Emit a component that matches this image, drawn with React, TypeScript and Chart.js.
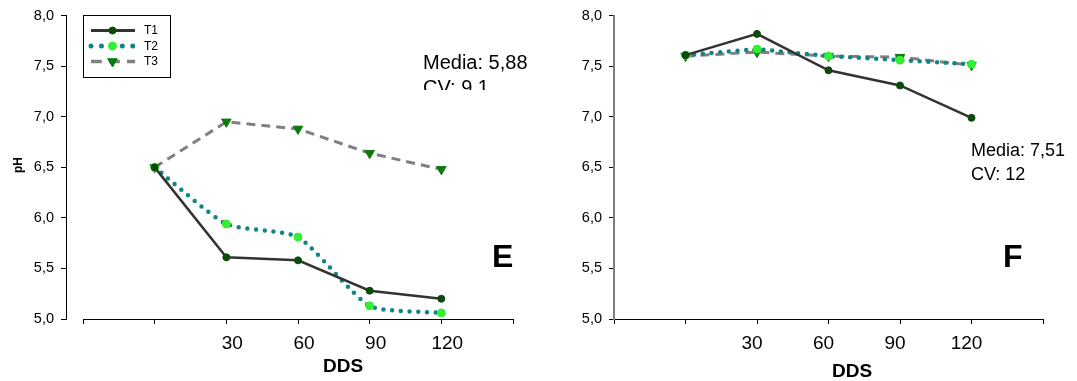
import React, { useEffect, useRef } from "react";
import { Chart, registerables } from "chart.js";

Chart.register(...registerables);

// Sampling days after sowing (DDS) and the three treatments
const days = [0, 30, 60, 90, 120];
const seriesNames = ["T1", "T2", "T3"];
const xTicks = [-30, 0, 30, 60, 90, 120, 150];
const xLabels = [30, 60, 90, 120];
const yTicks = [5.0, 5.5, 6.0, 6.5, 7.0, 7.5, 8.0];

// Panel E – soil pH per treatment
const phE_T1 = [6.5, 5.61, 5.58, 5.28, 5.2];
const phE_T2 = [6.5, 5.94, 5.81, 5.13, 5.06];
const phE_T3 = [6.5, 6.95, 6.88, 6.64, 6.48];

// Panel F – soil pH per treatment
const phF_T1 = [7.61, 7.82, 7.46, 7.31, 6.99];
const phF_T2 = [7.61, 7.67, 7.6, 7.56, 7.52];
const phF_T3 = [7.6, 7.64, 7.6, 7.59, 7.51];

const statsE = ["Media: 5,88", "CV: 9.1"];
const statsF = ["Media: 7,51", "CV: 12"];

const FONT = "'Liberation Sans', Arial, sans-serif";

type Series = number[];

function makeDatasets(t1: Series, t2: Series, t3: Series, t2Tension: number) {
  const pts = (v: Series) => days.map((d, i) => ({ x: d, y: v[i] }));
  return [
    {
      label: seriesNames[0],
      data: pts(t1),
      borderColor: "#333333",
      borderWidth: 2.5,
      pointRadius: 3.5,
      pointBackgroundColor: "#0b4a0b",
      pointBorderColor: "#0b4a0b",
      pointBorderWidth: 1,
      tension: 0,
    },
    {
      label: seriesNames[1],
      data: pts(t2),
      borderColor: "#0f8585",
      borderWidth: 4.5,
      borderDash: [0, 8.7],
      borderCapStyle: "round",
      pointRadius: 4,
      pointBackgroundColor: "#33ee33",
      pointBorderColor: "#33ee33",
      pointBorderWidth: 1,
      tension: t2Tension,
    },
    {
      label: seriesNames[2],
      data: pts(t3),
      borderColor: "#808080",
      borderWidth: 3,
      borderDash: [9, 6],
      pointStyle: "triangle",
      rotation: 180,
      pointRadius: 5.5,
      pointBackgroundColor: "#0a7a0a",
      pointBorderColor: "#0a7a0a",
      pointBorderWidth: 1,
      tension: 0,
    },
  ];
}

function drawMarker(ctx: CanvasRenderingContext2D, ds: any, x: number, y: number) {
  const r = ds.pointRadius;
  ctx.save();
  ctx.fillStyle = ds.pointBackgroundColor;
  ctx.strokeStyle = ds.pointBorderColor;
  ctx.lineWidth = ds.pointBorderWidth || 1;
  ctx.setLineDash([]);
  ctx.beginPath();
  if (ds.pointStyle === "triangle") {
    ctx.moveTo(x, y + r);
    ctx.lineTo(x - 0.866 * r, y - 0.5 * r);
    ctx.lineTo(x + 0.866 * r, y - 0.5 * r);
    ctx.closePath();
  } else {
    ctx.arc(x, y, r, 0, Math.PI * 2);
  }
  ctx.fill();
  ctx.stroke();
  ctx.restore();
}

// Axis line span, legend box, stats, panel letter and axis titles
const panelDecor = {
  id: "panelDecor",
  afterDraw(chart: any, _args: any, opts: any) {
    const { ctx, chartArea, scales } = chart;
    ctx.save();

    if (opts.axisSpan) {
      const x0 = scales.x.getPixelForValue(opts.axisSpan[0]);
      const x1 = scales.x.getPixelForValue(opts.axisSpan[1]);
      const yb = Math.round(chartArea.bottom) + 0.5;
      ctx.strokeStyle = "#000";
      ctx.lineWidth = 1;
      ctx.beginPath();
      ctx.moveTo(x0, yb);
      ctx.lineTo(x1, yb);
      ctx.stroke();
    }

    if (opts.legend) {
      const L = opts.legend;
      ctx.strokeStyle = "#000";
      ctx.lineWidth = 1;
      ctx.strokeRect(L.x + 0.5, L.y + 0.5, L.w, L.h);
      chart.data.datasets.forEach((ds: any, i: number) => {
        const yy = L.y + L.rows[i];
        ctx.save();
        ctx.strokeStyle = ds.borderColor;
        ctx.lineWidth = ds.borderWidth + 0.5;
        ctx.setLineDash(ds.borderDash ? ds.borderDash.map((d: number) => d * 1.2) : []);
        ctx.lineCap = ds.borderCapStyle || "butt";
        ctx.beginPath();
        ctx.moveTo(L.x + 8, yy);
        ctx.lineTo(L.x + 52, yy);
        ctx.stroke();
        ctx.restore();
        drawMarker(ctx, ds, L.x + 29.5, yy);
        ctx.fillStyle = "#000";
        ctx.font = `12px ${FONT}`;
        ctx.textAlign = "left";
        ctx.textBaseline = "middle";
        ctx.fillText(ds.label, L.x + 61, yy + 0.5);
      });
    }

    (opts.texts || []).forEach((t: any) => {
      ctx.save();
      if (t.clipBottom) {
        ctx.beginPath();
        ctx.rect(0, 0, chart.width, t.clipBottom);
        ctx.clip();
      }
      ctx.fillStyle = "#000";
      ctx.font = t.font;
      ctx.textAlign = t.align || "left";
      ctx.textBaseline = t.baseline || "alphabetic";
      if (t.rotate) {
        ctx.translate(t.x, t.y);
        ctx.rotate(t.rotate);
        ctx.fillText(t.text, 0, 0);
      } else {
        ctx.fillText(t.text, t.x, t.y);
      }
      ctx.restore();
    });

    ctx.restore();
  },
};

type PanelCfg = {
  datasets: any[];
  xMin: number;
  yWidth: number;
  padRight: number;
  xBorder: boolean;
  xLabelShift: number;
  yBorderColor: string;
  yBorderWidth: number;
  decor: any;
};

function buildConfig(p: PanelCfg): any {
  return {
    type: "line",
    data: { datasets: p.datasets },
    plugins: [panelDecor],
    options: {
      animation: false,
      responsive: false,
      layout: { padding: { left: 0, top: 11, right: p.padRight, bottom: 0 } },
      plugins: {
        legend: { display: false },
        tooltip: { enabled: false },
        panelDecor: p.decor,
      },
      scales: {
        x: {
          type: "linear",
          min: p.xMin,
          max: 150,
          afterBuildTicks: (s: any) => {
            s.ticks = xTicks.map((v) => ({ value: v }));
          },
          afterFit: (s: any) => {
            s.height = 62;
          },
          border: { display: p.xBorder, color: "#000", width: 1 },
          grid: {
            drawOnChartArea: false,
            drawTicks: true,
            tickLength: 5,
            tickColor: "#000",
            tickWidth: 1,
          },
          ticks: {
            autoSkip: false,
            maxRotation: 0,
            padding: 8,
            labelOffset: p.xLabelShift,
            color: "#000",
            font: { family: FONT, size: 19 },
            callback: (v: number) => (xLabels.includes(v) ? String(v) : ""),
          },
        },
        y: {
          min: 5,
          max: 8,
          afterBuildTicks: (s: any) => {
            s.ticks = yTicks.map((v) => ({ value: v }));
          },
          afterFit: (s: any) => {
            s.width = p.yWidth;
          },
          border: { color: p.yBorderColor, width: p.yBorderWidth },
          grid: {
            drawOnChartArea: false,
            drawTicks: true,
            tickLength: 5,
            tickColor: "#000",
            tickWidth: 1,
          },
          ticks: {
            padding: 7,
            color: "#000",
            font: { family: FONT, size: 14.5 },
            callback: (v: number) => Number(v).toFixed(1).replace(".", ","),
          },
        },
      },
    },
  };
}

function Panel({ cfg, width, left }: { cfg: PanelCfg; width: number; left: number }) {
  const ref = useRef<HTMLCanvasElement | null>(null);
  useEffect(() => {
    if (!ref.current) return;
    const chart = new Chart(ref.current, buildConfig(cfg));
    return () => chart.destroy();
  }, []);
  return (
    <canvas
      ref={ref}
      width={width}
      height={381}
      style={{ position: "absolute", left, top: 0, width, height: 381 }}
    />
  );
}

const panelE: PanelCfg = {
  datasets: makeDatasets(phE_T1, phE_T2, phE_T3, 0.2),
  xMin: -37.13,
  yWidth: 66,
  padRight: 27,
  xBorder: false,
  xLabelShift: 6,
  yBorderColor: "#000",
  yBorderWidth: 1,
  decor: {
    axisSpan: [-30, 150],
    legend: { x: 83, y: 15, w: 87, h: 62, rows: [15.5, 31, 46.5] },
    texts: [
      { text: statsE[0], x: 423, y: 68.5, font: `20px ${FONT}` },
      { text: statsE[1], x: 423, y: 93.5, font: `20px ${FONT}`, clipBottom: 90 },
      { text: "E", x: 492, y: 267, font: `bold 32px ${FONT}` },
      { text: "DDS", x: 343, y: 372, font: `bold 19px ${FONT}`, align: "center" },
      {
        text: "pH",
        x: 19,
        y: 165,
        font: `bold 12px ${FONT}`,
        align: "center",
        baseline: "middle",
        rotate: -Math.PI / 2,
      },
    ],
  },
};

const panelF: PanelCfg = {
  datasets: makeDatasets(phF_T1, phF_T2, phF_T3, 0),
  xMin: -30,
  yWidth: 74,
  padRight: 34,
  xBorder: true,
  xLabelShift: -5,
  yBorderColor: "#808080",
  yBorderWidth: 2,
  decor: {
    texts: [
      { text: statsF[0], x: 431, y: 156, font: `18px ${FONT}` },
      { text: statsF[1], x: 431, y: 179.5, font: `18px ${FONT}` },
      { text: "F", x: 463, y: 267, font: `bold 32px ${FONT}` },
      { text: "DDS", x: 312, y: 377, font: `bold 19px ${FONT}`, align: "center" },
    ],
  },
};

export default function App() {
  return (
    <div
      style={{
        position: "absolute",
        left: 0,
        top: 0,
        width: 1077,
        height: 381,
        background: "#fff",
        overflow: "hidden",
      }}
    >
      <Panel cfg={panelE} width={540} left={0} />
      <Panel cfg={panelF} width={537} left={540} />
    </div>
  );
}
